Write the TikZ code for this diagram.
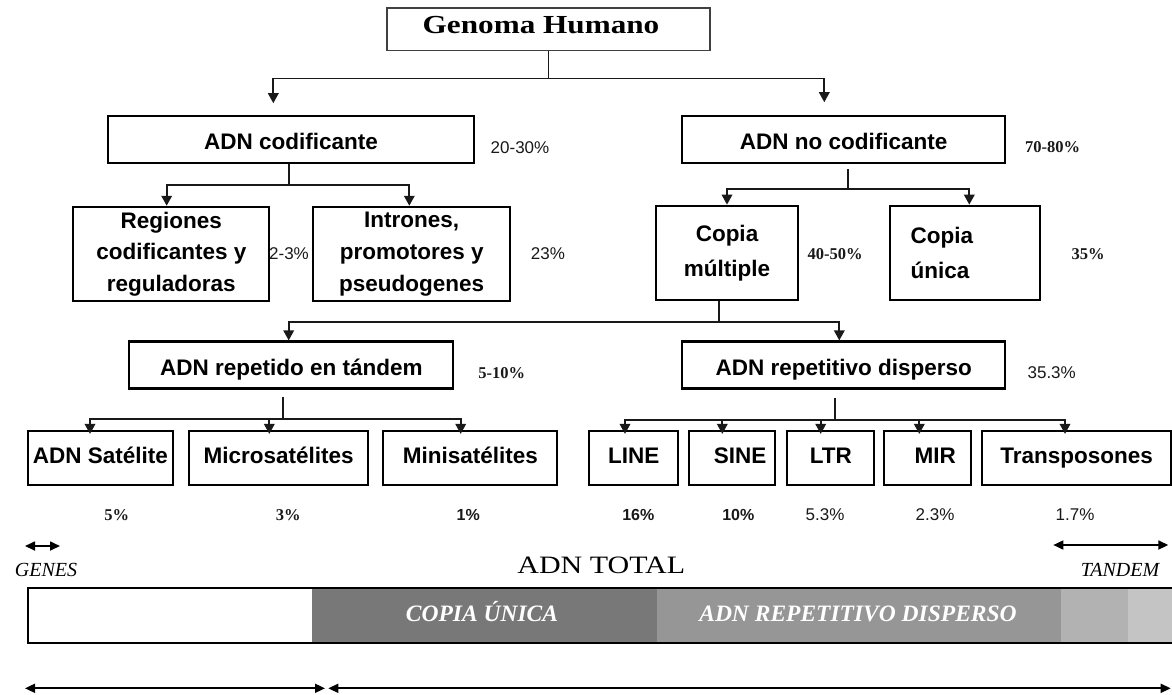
\documentclass[tikz,border=0pt]{standalone}
\usepackage{fontspec}
\setmainfont{Liberation Serif}
\newfontfamily\arial{Liberation Sans}
\newfontfamily\widetimes[FakeStretch=1.2]{Liberation Serif}
\usetikzlibrary{arrows.meta}

\tikzset{
  box/.style={draw=black, line width=2.2pt, inner sep=0pt, align=center,
    font=\arial\bfseries\fontsize{22.5}{31.7}\selectfont},
  headbox/.style={box, minimum height=47pt, text height=22pt, text depth=1.6pt},
  rowbox/.style={box, minimum height=54pt, text height=16pt, text depth=5.4pt},
  conn/.style={line width=1.8pt, draw=black!90},
  arr/.style={conn, -{Triangle[length=10pt,width=10.5pt]}},
  dbl/.style={line width=1.7pt, draw=black,
    {Triangle[length=10pt,width=9pt]}-{Triangle[length=10pt,width=9pt]}},
  pctsans/.style={font=\arial\fontsize{17}{19}\selectfont, text=black!90},
  pctsansb/.style={font=\arial\bfseries\fontsize{16}{19}\selectfont, text=black!90},
  pctserif/.style={font=\bfseries\fontsize{16.5}{19}\selectfont, text=black!90},
  barlabel/.style={font=\bfseries\itshape\fontsize{23.5}{26}\selectfont, text=white, anchor=base},
  spanlabel/.style={font=\itshape\fontsize{20}{22}\selectfont}
}

\begin{document}
\begin{tikzpicture}[x=1pt, y=-1pt]
  \fill[white] (0,0) rectangle (1172,694);
  \useasboundingbox (0,0) rectangle (1172,694);

  % ---- tree boxes ----
  \node[box, minimum width=323pt, minimum height=42.7pt, draw=black!75, line width=1.6pt,
        text height=18pt, text depth=10pt,
        font=\widetimes\bfseries\fontsize{26}{30}\selectfont] (gh) at (548.5,29.3) {Genoma Humano\hspace*{15pt}};

  \node[headbox, minimum width=366pt] (cod) at (291,139.5) {ADN codificante};
  \node[headbox, minimum width=322.7pt] (ncod) at (843.7,139.5) {ADN no codificante};

  \node[box, minimum width=196pt, minimum height=94.3pt] (reg) at (171.3,254) {Regiones\\codificantes y\\reguladoras};
  \node[box, minimum width=196.7pt, minimum height=94.3pt] (intr) at (411.7,254) {Intrones,\\promotores y\\pseudogenes};
  \node[box, minimum width=142.6pt, minimum height=94.3pt] (cm) at (727,252.9) {Copia\\[3.3pt]múltiple};
  \node[box, minimum width=150pt, minimum height=94.3pt, text width=108.6pt, align=left] (cu) at (965,252.9) {Copia\\[3.3pt]única};

  \node[headbox, minimum width=324pt] (tand) at (291.3,365) {ADN repetido en tándem};
  \node[headbox, minimum width=322.7pt] (disp) at (843.7,365) {ADN repetitivo disperso};

  \node[rowbox, minimum width=144.4pt] (sat) at (100.5,458) {ADN Satélite};
  \node[rowbox, minimum width=179.3pt] (micro) at (278.7,458) {Microsatélites};
  \node[rowbox, minimum width=174pt] (mini) at (470.3,458) {Minisatélites};
  \node[rowbox, minimum width=89.3pt] (line) at (633.7,458) {LINE};
  \node[rowbox, minimum width=86pt] (sine) at (732,458) {\hspace*{16pt}SINE};
  \node[rowbox, minimum width=87pt] (ltr) at (830.8,458) {LTR};
  \node[rowbox, minimum width=87pt] (mir) at (927.2,458) {\hspace*{16pt}MIR};
  \node[rowbox, minimum width=188.7pt] (trans) at (1076.7,458) {Transposones};

  % ---- connectors ----
  \coordinate (j1) at ([yshift=-27pt]gh.south);
  \draw[conn] (gh.south) -- (j1);
  \draw[arr, shorten >=11.7pt] (j1) -| ([xshift=-17.7pt]cod.north);
  \draw[arr, shorten >=12.7pt] (j1) -| ([xshift=-19.4pt]ncod.north);

  \coordinate (j2) at ([xshift=-2.3pt,yshift=-21pt]cod.south);
  \draw[conn] ([xshift=-2.3pt]cod.south) -- (j2);
  \draw[arr] (j2) -| ([xshift=-4.6pt]reg.north);
  \draw[arr] (j2) -| ([xshift=-2.4pt]intr.north);

  \coordinate (j3) at ([xshift=4.6pt,yshift=-25pt]ncod.south);
  \draw[conn] ([xshift=4.6pt,yshift=-4.7pt]ncod.south) -- (j3);
  \draw[arr] (j3) -| (cm.north);
  \draw[arr] (j3) -| ([xshift=4.3pt]cu.north);

  \coordinate (j4) at ([xshift=-7.7pt,yshift=-20.5pt]cm.south);
  \draw[conn] ([xshift=-7.7pt]cm.south) -- (j4);
  \draw[arr] (j4) -| ([xshift=-2.6pt]tand.north);
  \draw[arr] (j4) -| ([xshift=-4.4pt]disp.north);

  \coordinate (j5) at ([xshift=-8pt,yshift=-29pt]tand.south);
  \draw[conn] ([xshift=-8pt,yshift=-7.7pt]tand.south) -- (j5);
  \draw[arr, shorten >=-4pt] (j5) -| ([xshift=-10.5pt]sat.north);
  \draw[arr, shorten >=-4pt] (j5) -| ([xshift=-9.4pt]micro.north);
  \draw[arr, shorten >=-4pt] (j5) -| ([xshift=-9.6pt]mini.north);

  \coordinate (j6) at ([xshift=-8.7pt,yshift=-30pt]disp.south);
  \draw[conn] ([xshift=-8.7pt,yshift=-8.4pt]disp.south) -- (j6);
  \draw[arr, shorten >=-4pt] (j6) -| ([xshift=-8.7pt]line.north);
  \draw[arr, shorten >=-4pt] (j6) -| ([xshift=-9.7pt]sine.north);
  \draw[arr, shorten >=-4pt] (j6) -| ([xshift=-10.1pt]ltr.north);
  \draw[arr, shorten >=-4pt] (j6) -| ([xshift=-7.9pt]mir.north);
  \draw[arr, shorten >=-4pt] (j6) -| ([xshift=-11.7pt]trans.north);

  % ---- percentages ----
  \node[pctsans]  (p1)  at (520,147.7)  {20-30\%};
  \node[pctserif] (p2)  at (1052.5,146.7) {70-80\%};
  \node[pctsans]  (p3)  at (289,254)    {2-3\%};
  \node[pctsans]  (p4)  at (548,254)    {23\%};
  \node[pctserif] (p5)  at (835,254)    {40-50\%};
  \node[pctserif] (p6)  at (1088,254)   {35\%};
  \node[pctserif] (p7)  at (501.7,372.7) {5-10\%};
  \node[pctsans]  (p8)  at (1051.7,372.7) {35.3\%};
  \node[pctserif] (p9)  at (116.7,515)  {5\%};
  \node[pctserif] (p10) at (288.3,515)  {3\%};
  \node[pctsansb] (p11) at (468.3,515)  {1\%};
  \node[pctsansb] (p12) at (638.3,515)  {16\%};
  \node[pctsansb] (p13) at (738.3,515)  {10\%};
  \node[pctsans]  (p14) at (825,515)    {5.3\%};
  \node[pctsans]  (p15) at (935,515)    {2.3\%};
  \node[pctsans]  (p16) at (1075,515)   {1.7\%};

  % ---- total DNA bar ----
  \fill[white]           (28.3,588.3)   rectangle (312.3,643.3);
  \fill[black!53]        (312.3,588.3)  rectangle (656.7,643.3);
  \fill[black!41]        (656.7,588.3)  rectangle (1061,643.3);
  \fill[black!30]        (1061,588.3)   rectangle (1128.3,643.3);
  \fill[black!23]        (1128.3,588.3) rectangle (1172,643.3);
  \draw[line width=2.2pt] (1172,588.3) -- (28.3,588.3) -- (28.3,643.3) -- (1172,643.3);

  \node[barlabel] (cu2) at (482,621.7) {COPIA ÚNICA};
  \node[barlabel] (rd2) at (858,621.7) {ADN REPETITIVO DISPERSO};

  \node[font=\widetimes\fontsize{25}{28}\selectfont] (tot) at (601.3,565) {ADN TOTAL};
  \node[spanlabel] (genes) at (46,570) {GENES};
  \node[spanlabel] (tandem) at (1120,570) {TANDEM};

  % ---- span arrows ----
  \coordinate (g1) at (25,546);    \coordinate (g2) at (60,546);
  \coordinate (t1) at (1053.3,545); \coordinate (t2) at (1168.3,545);
  \coordinate (b1) at (25,688.3);  \coordinate (b2) at (325,688.3);
  \coordinate (b3) at (328.3,688.3); \coordinate (b4) at (1170.7,688.3);
  \draw[dbl] (g1) -- (g2);
  \draw[dbl] (t1) -- (t2);
  \draw[dbl] (b1) -- (b2);
  \draw[dbl] (b3) -- (b4);
\end{tikzpicture}
\end{document}
